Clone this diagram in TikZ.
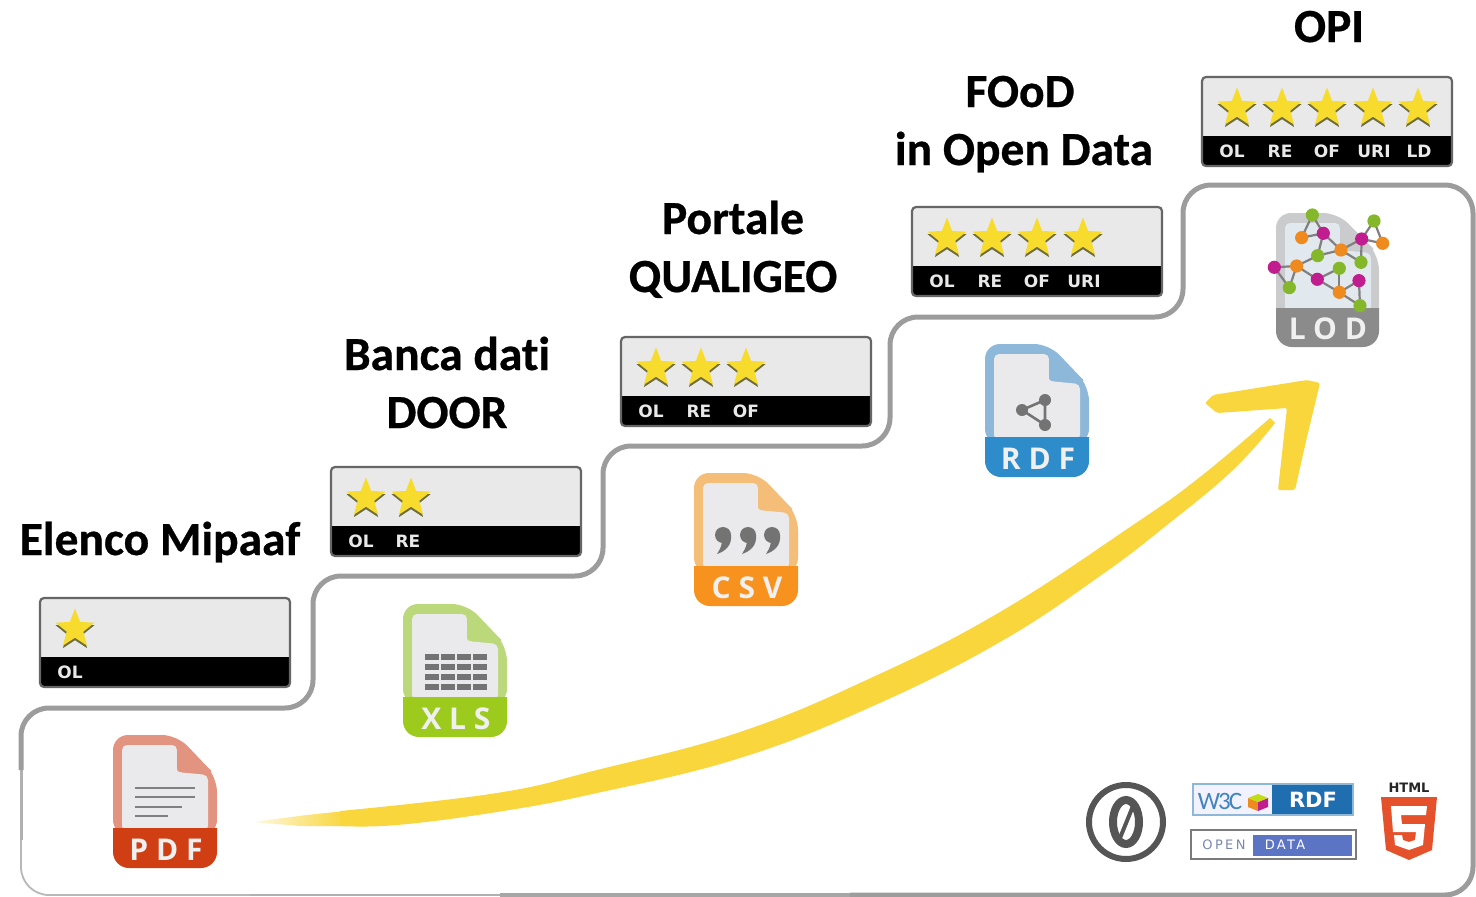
\documentclass[tikz,border=0pt]{standalone}
\usepackage{fontspec}
\usetikzlibrary{shapes.geometric}
\setmainfont{Carlito}[Ligatures=NoCommon,BoldFeatures={FakeBold=0.6}]
\newfontfamily\badgef{DejaVu Sans}
\newfontfamily\iconf{Open Sans}
\definecolor{edgegray}{HTML}{9C9C9C}
\definecolor{starY}{HTML}{F7DC2E}
\definecolor{starS}{HTML}{6F6D3C}
\definecolor{arrowY}{HTML}{F9D63C}
\definecolor{pageG}{HTML}{EAEAEC}
\definecolor{badgeG}{HTML}{E9E9E9}
\definecolor{netG}{HTML}{84B82A}
\definecolor{netO}{HTML}{EE8A1E}
\definecolor{netM}{HTML}{C01E8E}
\definecolor{pdfL}{HTML}{E39480}
\definecolor{pdfD}{HTML}{D03E14}
\definecolor{xlsL}{HTML}{BBD87A}
\definecolor{xlsD}{HTML}{9CCB1E}
\definecolor{csvL}{HTML}{F5BE78}
\definecolor{csvD}{HTML}{F8921E}
\definecolor{rdfL}{HTML}{8DB8DA}
\definecolor{rdfD}{HTML}{2E8CCB}
\definecolor{lodL}{HTML}{C9CBCD}
\definecolor{lodD}{HTML}{8B8B8B}
\definecolor{ccG}{HTML}{555555}
\definecolor{rdfLogo}{HTML}{1F6FB0}
\definecolor{odB}{HTML}{5B74C4}
\definecolor{odT}{HTML}{7A88B0}
\definecolor{htmlO}{HTML}{E4512A}
\tikzset{
  x=1pt,y=-1pt,
  title/.style={font=\fontsize{47.5}{47.5}\selectfont\bfseries,inner sep=0,anchor=base,text=black},
  starshape/.style={star,star points=5,star point ratio=2.35,inner sep=0,minimum size=41,draw=none},
  badgelabel/.style={font=\badgef\fontsize{17}{17}\selectfont\bfseries,text=badgeG,inner sep=0},
  iconlabel/.style={font=\iconf\fontsize{30}{30}\selectfont\bfseries\addfontfeatures{LetterSpace=26},inner sep=0,text=white!94!black},
}
\newcommand{\badge}[5]{%
  \begin{scope}[shift={(#2,#3)}]
    \fill[badgeG,rounded corners=4] (0,0) rectangle (250,89);
    \fill[black,rounded corners=4] (0,60) -- (250,60) -- (250,89) -- (0,89) -- cycle;
    \fill[black] (0,59) rectangle (250,70);
    \draw[line width=2.2,draw=black!60,rounded corners=4] (0,0) rectangle (250,89);
    \foreach \i/\xx in {1/35,2/80,3/125,4/171,5/216}{
      \ifnum\i>#4\relax\else
        \node[starshape,fill=starS] (#1s\i) at (\xx,33.5) {};
        \node[starshape,fill=starY] (#1t\i) at (\xx,31) {};
      \fi
    }
    \foreach \xx/\t in {#5}{
      \node[badgelabel] (#1l\t) at (\xx,74) {\t};
    }
  \end{scope}}
\newcommand{\fileicon}[6]{%
  \begin{scope}[shift={(#2,#3)}]
    \fill[#4,rounded corners=15] (0,0) -- (64,0) -- (104,42) -- (104,100) -- (0,100) -- cycle;
    \fill[pageG,rounded corners=5] (9,10) -- (64,10) -- (64,37) -- (95,40) -- (95,96) -- (9,96) -- cycle;
    \fill[#4,rounded corners=3] (64,6) -- (64,37) -- (100,37) -- cycle;
    \fill[#5,sharp corners] (0,93) -- (104,93) [rounded corners=16] -- (104,133) -- (0,133) [sharp corners] -- cycle;
    \node[iconlabel] (#1) at (53,115) {#6};
  \end{scope}}
\begin{document}
\begin{tikzpicture}
\useasboundingbox (0,0) rectangle (1476,897);
\fill[white] (0,0) rectangle (1476,897);

% staircase outline
\draw[draw=black!28,line width=1.8,rounded corners=28]
  (21,800) -- (21,708) -- (313,708) -- (313,576) -- (603,576) -- (603,446) -- (890,446) -- (890,317) -- (1183,317) -- (1183,185) -- (1473,185) -- (1473,895) -- (21,895) -- cycle;
\draw[draw=edgegray!80,line width=3] (21,840) -- (21,770);
\draw[draw=edgegray!80,line width=2.6] (500,895) -- (250,895);
\draw[draw=edgegray!90,line width=3.6] (850,895) -- (500,895);
\draw[draw=edgegray,line width=5,rounded corners=28]
  (21,770) -- (21,708) -- (313,708) -- (313,576) -- (603,576) -- (603,446) -- (890,446) -- (890,317) -- (1183,317) -- (1183,185) -- (1473,185) -- (1473,895) -- (850,895);

% badges
\badge{a}{40}{598}{1}{30/OL}
\badge{b}{331}{467}{2}{30/OL,77/RE}
\badge{c}{621}{337}{3}{30/OL,78/RE,125/OF}
\badge{d}{912}{207}{4}{30/OL,78/RE,125/OF,172/URI}
\badge{e}{1202}{77}{5}{30/OL,78/RE,125/OF,172/URI,217/LD}

% titles
\node[title] (t1) at (160,555) {Elenco Mipaaf};
\node[title] (t2) at (447,370) {Banca dati};
\node[title] (t2b) at (447,428) {DOOR};
\node[title] (t3) at (733,234) {Portale};
\node[title] (t3b) at (733,292) {QUALIGEO};
\node[title] (t4) at (1020,107) {FOoD};
\node[title] (t4b) at (1024,165) {in Open Data};
\node[title] (t5) at (1329,42) {OPI};

% file icons
\fileicon{pdf}{113}{735}{pdfL}{pdfD}{PDF}
\fileicon{xls}{403}{604}{xlsL}{xlsD}{XLS}
\fileicon{csv}{694}{473}{csvL}{csvD}{CSV}
\fileicon{rdf}{985}{344}{rdfL}{rdfD}{RDF}

% pdf lines
\foreach \yy/\xe in {788/195,797/195,807/182,816/168}{
  \draw[draw=black!50,line width=1.8] (135,\yy) -- (\xe,\yy);
}
% xls grid
\foreach \yy in {657,667,677,687}{
  \foreach \xx in {425,441,457,473}{
    \fill[black!55] (\xx,\yy-3) rectangle (\xx+14,\yy+3);
  }
}
% csv commas
\foreach \xx in {723,748,772}{
  \begin{scope}[shift={(\xx,535)}]
    \fill[black!55] (-8,0) arc[start angle=180,end angle=-180,radius=8];
    \fill[black!55] (8,0) .. controls (9,10) and (3,16) .. (-6,19) .. controls (-2,13) and (-1,9) .. (-1,5) -- cycle;
  \end{scope}
}
% rdf share icon
\coordinate (r1) at (1022,410);
\coordinate (r2) at (1045,400);
\coordinate (r3) at (1045,425);
\draw[draw=black!55,line width=2.6] (r2) -- (r1) -- (r3) -- cycle;
\foreach \c in {r1,r2,r3}{\fill[black!55] (\c) circle[radius=6];}

% lod icon
\fill[lodL,rounded corners=15] (1276,213) -- (1338,213) -- (1379,255) -- (1379,320) -- (1276,320) -- cycle;
\fill[cyan!5!pageG,rounded corners=5] (1285,223) -- (1340,223) -- (1340,250) -- (1371,253) -- (1371,312) -- (1285,312) -- cycle;
\fill[lodL,rounded corners=3] (1340,218) -- (1340,250) -- (1375,250) -- cycle;
\fill[lodD,sharp corners] (1276,308) -- (1379,308) [rounded corners=16] -- (1379,347) -- (1276,347) [sharp corners] -- cycle;
\node[iconlabel] (lod) at (1328,329) {LOD};
\begin{scope}[shift={(1180,60)},x=0.3333pt,y=-0.3333pt]
  \foreach \n/\xx/\yy in {1/397/465,2/365/533,3/430/520,4/483/570,5/545/537,6/582/483,7/608/550,8/543/607,9/413/587,10/350/618,11/283/622,12/328/683,13/412/658,14/478/625,15/478/697,16/537/662,17/540/737}{
    \coordinate (n\n) at (\xx,\yy);
  }
  \foreach \a/\b in {1/2,1/3,2/3,3/4,3/9,9/4,4/5,5/6,6/7,5/7,5/8,4/8,9/10,10/11,11/12,10/12,10/13,13/14,13/15,14/15,15/16,16/17,15/17}{
    \draw[draw=black!50,line width=2.2] (n\a) -- (n\b);
  }
  \foreach \n/\c in {1/netG,2/netO,3/netM,4/netO,5/netM,6/netG,7/netO,8/netG,9/netG,10/netO,11/netM,12/netG,13/netM,14/netG,15/netO,16/netM,17/netG}{
    \fill[\c] (n\n) circle[radius=6.6pt];
  }
\end{scope}

% yellow arrow
\shade[left color=arrowY!15,right color=arrowY]
  (253,822) -- (307,815) -- (345,811) -- (345,826) -- (300,826) -- cycle;
\fill[arrowY] plot[smooth,tension=0.7] coordinates {(340,811) (497,793) (597,770) (740,732) (873,677) (1000,612) (1133,525) (1200,477) (1270,418)}
  -- plot[smooth,tension=0.7] coordinates {(1275,423) (1233,470) (1167,525) (1100,576) (1000,642) (873,706) (740,758) (597,793) (497,812) (397,825) (340,826)} -- cycle;
\fill[arrowY,rounded corners=2] (1205,403) -- (1213,395) -- (1307,380) -- (1320,383) -- (1307,437) -- (1295,490) -- (1278,490) -- (1287,408) -- (1217,413) -- cycle;

% cc0
\draw[draw=ccG,line width=6] (1126,822) circle[radius=37];
\draw[draw=ccG,line width=8] (1126,822) ellipse[x radius=13,y radius=22];
\draw[draw=ccG,line width=4] (1120,838) -- (1133,806);

% w3c rdf
\fill[blue!5!white] (1193,784) rectangle (1272,815);
\fill[rdfLogo] (1272,784) rectangle (1353,815);
\draw[draw=rdfL,line width=1.2] (1193,784) rectangle (1353,815);
\node[inner sep=0,font=\fontsize{25}{25}\selectfont\addfontfeatures{LetterSpace=-8},text=rdfLogo!85!white] (w3c) at (1220,801) {W3C};
\fill[netO] (1248,798) -- (1258,802) -- (1258,811) -- (1248,807) -- cycle;
\fill[netM] (1258,802) -- (1268,798) -- (1268,807) -- (1258,811) -- cycle;
\fill[netG!50!yellow] (1248,798) -- (1258,794) -- (1268,798) -- (1258,802) -- cycle;
\node[inner sep=0,font=\badgef\fontsize{21}{21}\selectfont\bfseries,text=white] (rdfl) at (1313,800) {RDF};

% open data
\fill[white] (1191,829) rectangle (1356,860);
\fill[odB] (1253,835) rectangle (1352,856);
\draw[draw=black!52,line width=2.4] (1191,830) rectangle (1356,859);
\node[inner sep=0,font=\badgef\fontsize{13}{13}\selectfont\addfontfeatures{LetterSpace=18},text=odT] (openl) at (1224,845) {OPEN};
\node[inner sep=0,font=\badgef\fontsize{13}{13}\selectfont\addfontfeatures{LetterSpace=18},text=white] (datal) at (1285,845) {DATA};

% html5
\node[inner sep=0,font=\badgef\fontsize{13}{13}\selectfont\bfseries,text=black!85] (html) at (1409,788) {HTML};
\fill[htmlO] (1381,797) -- (1437,797) -- (1432,850) -- (1409,860) -- (1386,850) -- cycle;
\fill[white] (1391,806) -- (1427,806) -- (1426,815) -- (1401,815) -- (1402,824) -- (1425,824) -- (1423,845) -- (1409,850) -- (1395,845) -- (1394,835) -- (1402,835) -- (1403,840) -- (1409,842) -- (1415,840) -- (1416,832) -- (1393,832) -- cycle;
\end{tikzpicture}
\end{document}
